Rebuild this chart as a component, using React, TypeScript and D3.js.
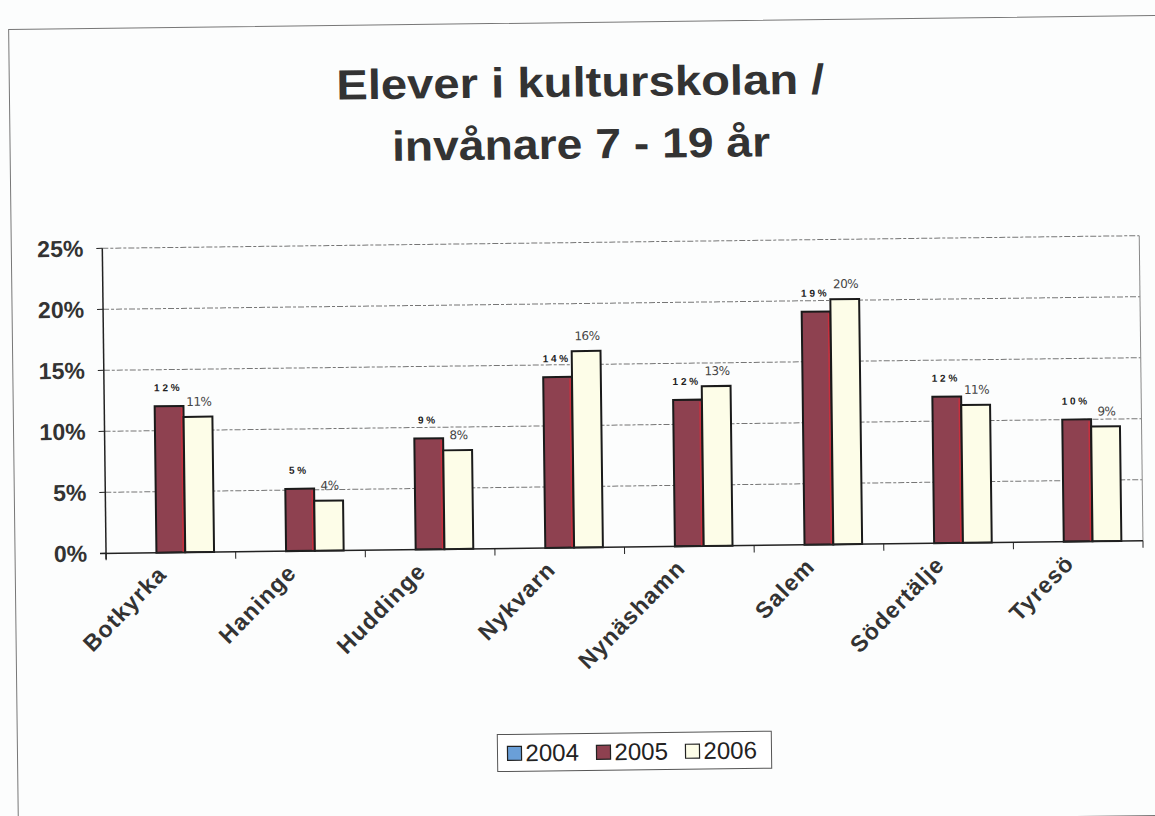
import React from "react";
import * as d3 from "d3";

const categories = ["Botkyrka", "Haninge", "Huddinge", "Nykvarn", "Nynäshamn", "Salem", "Södertälje", "Tyresö"];
const years = ["2004", "2005", "2006"];
const values2005 = [12.0, 5.1, 9.1, 14.0, 12.0, 19.1, 12.0, 10.0];
const values2006 = [11.1, 4.1, 8.1, 16.1, 13.1, 20.1, 11.3, 9.4];
const labels2005 = ["1 2 %", "5 %", "9 %", "1 4 %", "1 2 %", "1 9 %", "1 2 %", "1 0 %"];
const labels2006 = ["11%", "4%", "8%", "16%", "13%", "20%", "11%", "9%"];
const yTicks = [0, 5, 10, 15, 20, 25];
const titleLines = ["Elever i kulturskolan /", "invånare 7 - 19 år"];
const colors: Record<string, string> = { "2004": "#6a9fd8", "2005": "#8e4150", "2006": "#fdfde8" };

export default function App() {
  const W = 1155, H = 816;
  const left = 106, right = 1143, top = 242, bottom = 547;
  const x0 = d3.scaleBand<string>().domain(categories).range([left, right]).paddingInner(0).paddingOuter(0);
  const x1 = d3.scaleBand<string>().domain(years).range([0, x0.bandwidth()]).paddingInner(0).paddingOuter(0.75);
  const y = d3.scaleLinear().domain([0, 25]).range([bottom, top]);
  const font = "'Liberation Sans', Arial, sans-serif";
  const gothic = "'DejaVu Sans', 'Liberation Sans', sans-serif";

  const series = [
    { year: "2005", vals: values2005, labels: labels2005 },
    { year: "2006", vals: values2006, labels: labels2006 },
  ];
  const boundaries = d3.range(categories.length + 1).map((i) => left + i * x0.step());

  return (
    <svg width={W} height={H} style={{ position: "absolute", left: 0, top: 0, background: "#fdfdfd" }}>
      <rect x={0} y={0} width={W} height={H} fill="#fcfdfd" />
      <g transform={`rotate(-0.7, 624, 547)`}>
        {/* outer chart border */}
        <rect x={15} y={22} width={1160} height={800} fill="none" stroke="#777" strokeWidth={1} />
        {/* title */}
        {titleLines.map((t, i) => (
          <text key={i} x={586} y={96 + i * 62} textAnchor="middle" fontFamily={font} fontWeight="bold" fontSize={42} fill="#333" textLength={i === 0 ? 488 : 378} lengthAdjust="spacingAndGlyphs">
            {t}
          </text>
        ))}
        {/* grid */}
        {yTicks.filter((t) => t > 0).map((t) => (
          <line key={t} x1={left} x2={right} y1={y(t)} y2={y(t)} stroke="#555" strokeWidth={1} strokeDasharray="6 2 3 2" opacity={0.8} />
        ))}
        <line x1={right} x2={right} y1={top} y2={bottom} stroke="#888" strokeWidth={1} />
        {/* bars */}
        {series.map((s) =>
          categories.map((c, i) => {
            const bx = (x0(c) as number) + (x1(s.year) as number);
            const by = y(s.vals[i]);
            return (
              <g key={s.year + c}>
                <rect x={bx} y={by} width={x1.bandwidth()} height={bottom - by} fill={colors[s.year]} stroke="#1a1a1a" strokeWidth={2} />
                {s.year === "2005" && (
                  <line x1={bx + x1.bandwidth() - 2} x2={bx + x1.bandwidth() - 2} y1={by + 2} y2={bottom} stroke="#c8303e" strokeWidth={1.5} />
                )}
              </g>
            );
          })
        )}
        {/* value labels */}
        {categories.map((c, i) => {
          const bx5 = (x0(c) as number) + (x1("2005") as number) + x1.bandwidth() / 2;
          const bx6 = (x0(c) as number) + (x1("2006") as number) + x1.bandwidth() / 2;
          return (
            <g key={"lab" + c}>
              <text x={bx5 - 2} y={y(values2005[i]) - 15} textAnchor="middle" fontFamily={font} fontWeight="bold" fontSize={10} fill="#222">
                {labels2005[i]}
              </text>
              <text x={bx6 + 1} y={y(values2006[i]) - 11} textAnchor="middle" fontFamily={gothic} fontSize={12} fill="#444" letterSpacing={-0.5}>
                {labels2006[i]}
              </text>
            </g>
          );
        })}
        {/* axes */}
        <line x1={left} x2={left} y1={top} y2={bottom + 6} stroke="#222" strokeWidth={1.5} />
        <line x1={left - 6} x2={right} y1={bottom} y2={bottom} stroke="#222" strokeWidth={1.5} />
        {yTicks.map((t) => (
          <g key={"yt" + t}>
            <line x1={left - 6} x2={left} y1={y(t)} y2={y(t)} stroke="#222" strokeWidth={1} />
            <text x={87} y={y(t) + 8} textAnchor="end" fontFamily={font} fontWeight="bold" fontSize={23} fill="#333">
              {t + "%"}
            </text>
          </g>
        ))}
        {boundaries.map((b, i) => (
          <line key={"xt" + i} x1={b} x2={b} y1={bottom} y2={bottom + 7} stroke="#222" strokeWidth={1} />
        ))}
        {categories.map((c) => {
          const cx = (x0(c) as number) + x0.bandwidth() / 2;
          return (
            <text key={"xl" + c} transform={`translate(${cx - 3}, ${bottom + 23}) rotate(-45)`} textAnchor="end" fontFamily={font} fontWeight="bold" fontSize={23} letterSpacing={1.2} fill="#333">
              {c}
            </text>
          );
        })}
        {/* legend */}
        <g transform="translate(495, 733)">
          <rect x={0} y={0} width={274} height={37} fill="#fff" stroke="#555" strokeWidth={1} />
          {years.map((yr, i) => (
            <g key={"lg" + yr} transform={`translate(${10 + i * 89}, 0)`}>
              <rect x={0} y={12} width={14} height={14} fill={colors[yr]} stroke="#222" strokeWidth={1.2} />
              <text x={18} y={27} fontFamily={font} fontSize={24} fill="#222">
                {yr}
              </text>
            </g>
          ))}
        </g>
      </g>
    </svg>
  );
}
